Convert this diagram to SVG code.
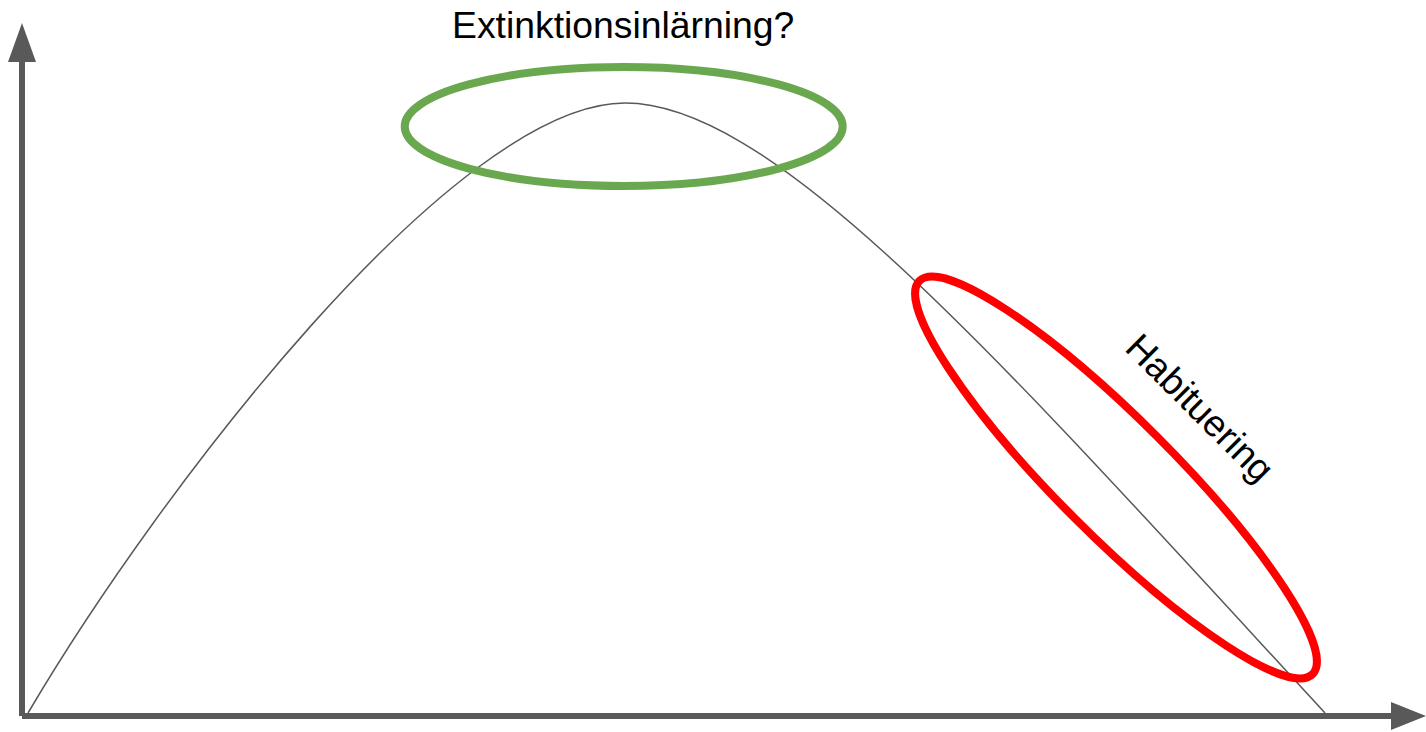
<svg xmlns="http://www.w3.org/2000/svg" width="1426" height="732" viewBox="0 0 1426 732">
  <style>
    .axis { stroke: #595959; stroke-width: 6; fill: none; }
    .head { fill: #595959; stroke: none; }
    .curve { stroke: #595959; stroke-width: 1.5; fill: none; }
    .ring { fill: none; stroke-width: 8; }
    .label { font-family: "Liberation Sans", Arial, sans-serif; font-size: 37.33px; fill: #000000; }
  </style>
  <rect width="1426" height="732" fill="#ffffff"/>
  <g id="connectors">
    <line class="axis" x1="22" y1="60" x2="22" y2="716"/>
    <polygon class="head" points="22,23 8,62 36,62"/>
    <line class="axis" x1="22" y1="716" x2="1393" y2="716"/>
    <polygon class="head" points="1426,716 1391,702 1391,730"/>
  </g>
  <g id="curve">
    <path class="curve" d="M28,713 C158,492 455,103 625,103 C775,103 1000,360 1325,713"/>
  </g>
  <g id="extinktion">
    <ellipse class="ring" cx="623.7" cy="126.5" rx="219" ry="59.5" stroke="#6aa84f"/>
    <text class="label" x="452" y="38">Extinktionsinlärning?</text>
  </g>
  <g id="habituering">
    <ellipse class="ring" cx="1116" cy="477.5" rx="278" ry="58" stroke="#ff0000" transform="rotate(45 1116 477.5)"/>
    <text class="label" text-anchor="middle" transform="translate(1191 417) rotate(45)">Habituering</text>
  </g>
</svg>
